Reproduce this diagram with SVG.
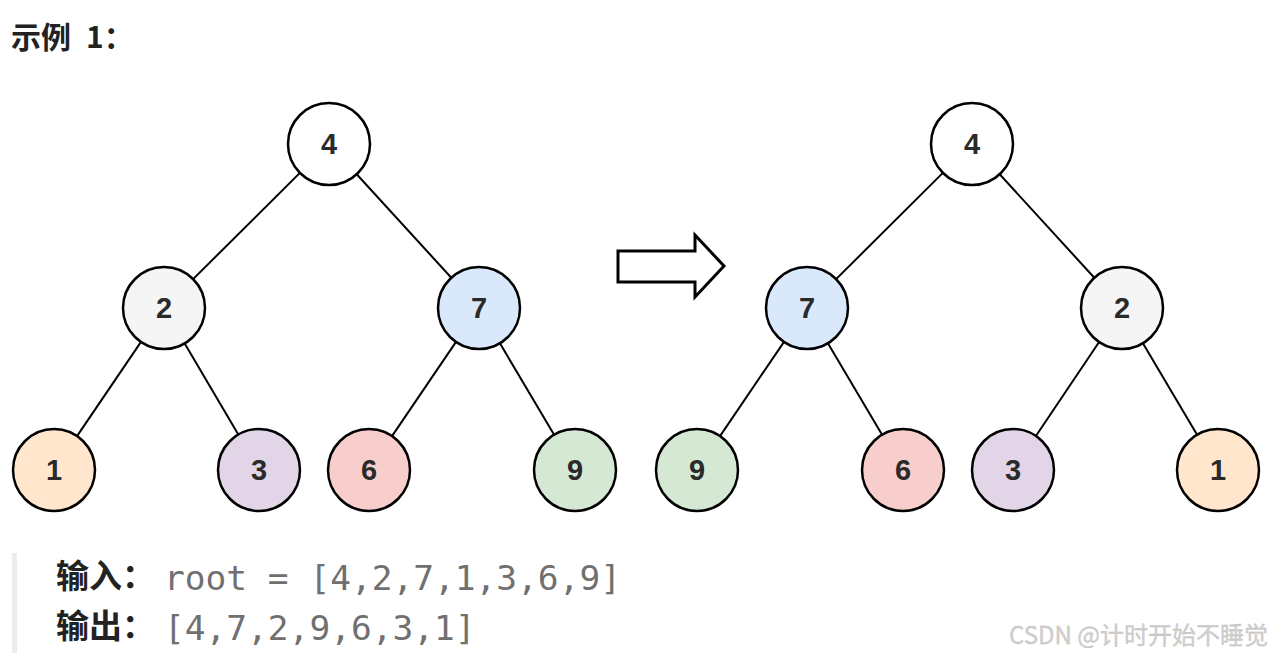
<svg xmlns="http://www.w3.org/2000/svg" width="1273" height="657" viewBox="0 0 1273 657">
<style>
.n circle{stroke:#000;stroke-width:2.5}
.n text{font-family:"Liberation Sans",Arial,sans-serif;font-weight:bold;font-size:29px;fill:#2a2a2a;text-anchor:middle;dominant-baseline:central}
.e line{stroke:#000;stroke-width:2}
.cn{font-family:"Noto Sans CJK SC","Noto Sans",sans-serif;font-weight:bold;fill:#222}
.mono{font-family:"DejaVu Sans Mono","Liberation Mono",monospace;font-size:34.5px;fill:#707070}
</style>
<rect width="1273" height="657" fill="#fff"/>
<g id="title"><text class="cn" x="11" y="48" font-size="30">示例</text><text class="cn" x="86" y="48" font-size="30">1：</text></g>
<g id="connectors" class="e">
<line x1="299.9" y1="172.9" x2="193.1" y2="279.1"/>
<line x1="356.7" y1="174.3" x2="451.3" y2="277.7"/>
<line x1="141" y1="341.9" x2="77" y2="436.1"/>
<line x1="184.7" y1="343.4" x2="238.3" y2="434.6"/>
<line x1="456" y1="341.9" x2="392" y2="436.1"/>
<line x1="499.9" y1="343.3" x2="554.1" y2="434.7"/>
<line x1="942.9" y1="172.9" x2="836.1" y2="279.1"/>
<line x1="999.7" y1="174.3" x2="1094.3" y2="277.7"/>
<line x1="784" y1="341.9" x2="720" y2="436.1"/>
<line x1="827.9" y1="343.3" x2="882.1" y2="434.7"/>
<line x1="1099.1" y1="342" x2="1035.9" y2="436"/>
<line x1="1142.9" y1="343.3" x2="1197.1" y2="434.7"/>
</g>
<g id="L4" class="n"><circle cx="329" cy="144" r="41" fill="#fff"/><text x="329" y="144">4</text></g>
<g id="L2" class="n"><circle cx="164" cy="308" r="41" fill="#f5f5f5"/><text x="164" y="308">2</text></g>
<g id="L7" class="n"><circle cx="479" cy="308" r="41" fill="#dae8fc"/><text x="479" y="308">7</text></g>
<g id="L1" class="n"><circle cx="54" cy="470" r="41" fill="#ffe6cc"/><text x="54" y="470">1</text></g>
<g id="L3" class="n"><circle cx="259" cy="470" r="41" fill="#e1d5e7"/><text x="259" y="470">3</text></g>
<g id="L6" class="n"><circle cx="369" cy="470" r="41" fill="#f8cecc"/><text x="369" y="470">6</text></g>
<g id="L9" class="n"><circle cx="575" cy="470" r="41" fill="#d5e8d4"/><text x="575" y="470">9</text></g>
<g id="arrow"><polygon points="618,251 695,251 695,235 724,266 695,297 695,282 618,282" fill="#fff" stroke="#000" stroke-width="3"/></g>
<g id="R4" class="n"><circle cx="972" cy="144" r="41" fill="#fff"/><text x="972" y="144">4</text></g>
<g id="R7" class="n"><circle cx="807" cy="308" r="41" fill="#dae8fc"/><text x="807" y="308">7</text></g>
<g id="R2" class="n"><circle cx="1122" cy="308" r="41" fill="#f5f5f5"/><text x="1122" y="308">2</text></g>
<g id="R9" class="n"><circle cx="697" cy="470" r="41" fill="#d5e8d4"/><text x="697" y="470">9</text></g>
<g id="R6" class="n"><circle cx="903" cy="470" r="41" fill="#f8cecc"/><text x="903" y="470">6</text></g>
<g id="R3" class="n"><circle cx="1013" cy="470" r="41" fill="#e1d5e7"/><text x="1013" y="470">3</text></g>
<g id="R1" class="n"><circle cx="1218" cy="470" r="41" fill="#ffe6cc"/><text x="1218" y="470">1</text></g>
<rect x="12" y="553" width="5" height="100" fill="#ececec"/>
<text class="cn" x="56" y="588" font-size="33">输入：</text>
<text class="mono" x="164" y="590">root = [4,2,7,1,3,6,9]</text>
<text class="cn" x="56" y="638" font-size="33">输出：</text>
<text class="mono" x="164" y="640">[4,7,2,9,6,3,1]</text>
<text x="1268" y="644" text-anchor="end" font-family="'Noto Sans CJK SC','Liberation Sans',sans-serif" font-size="24" fill="#d0d0d0" stroke="#bbb" stroke-width="0.3">CSDN @计时开始不睡觉</text>
</svg>
